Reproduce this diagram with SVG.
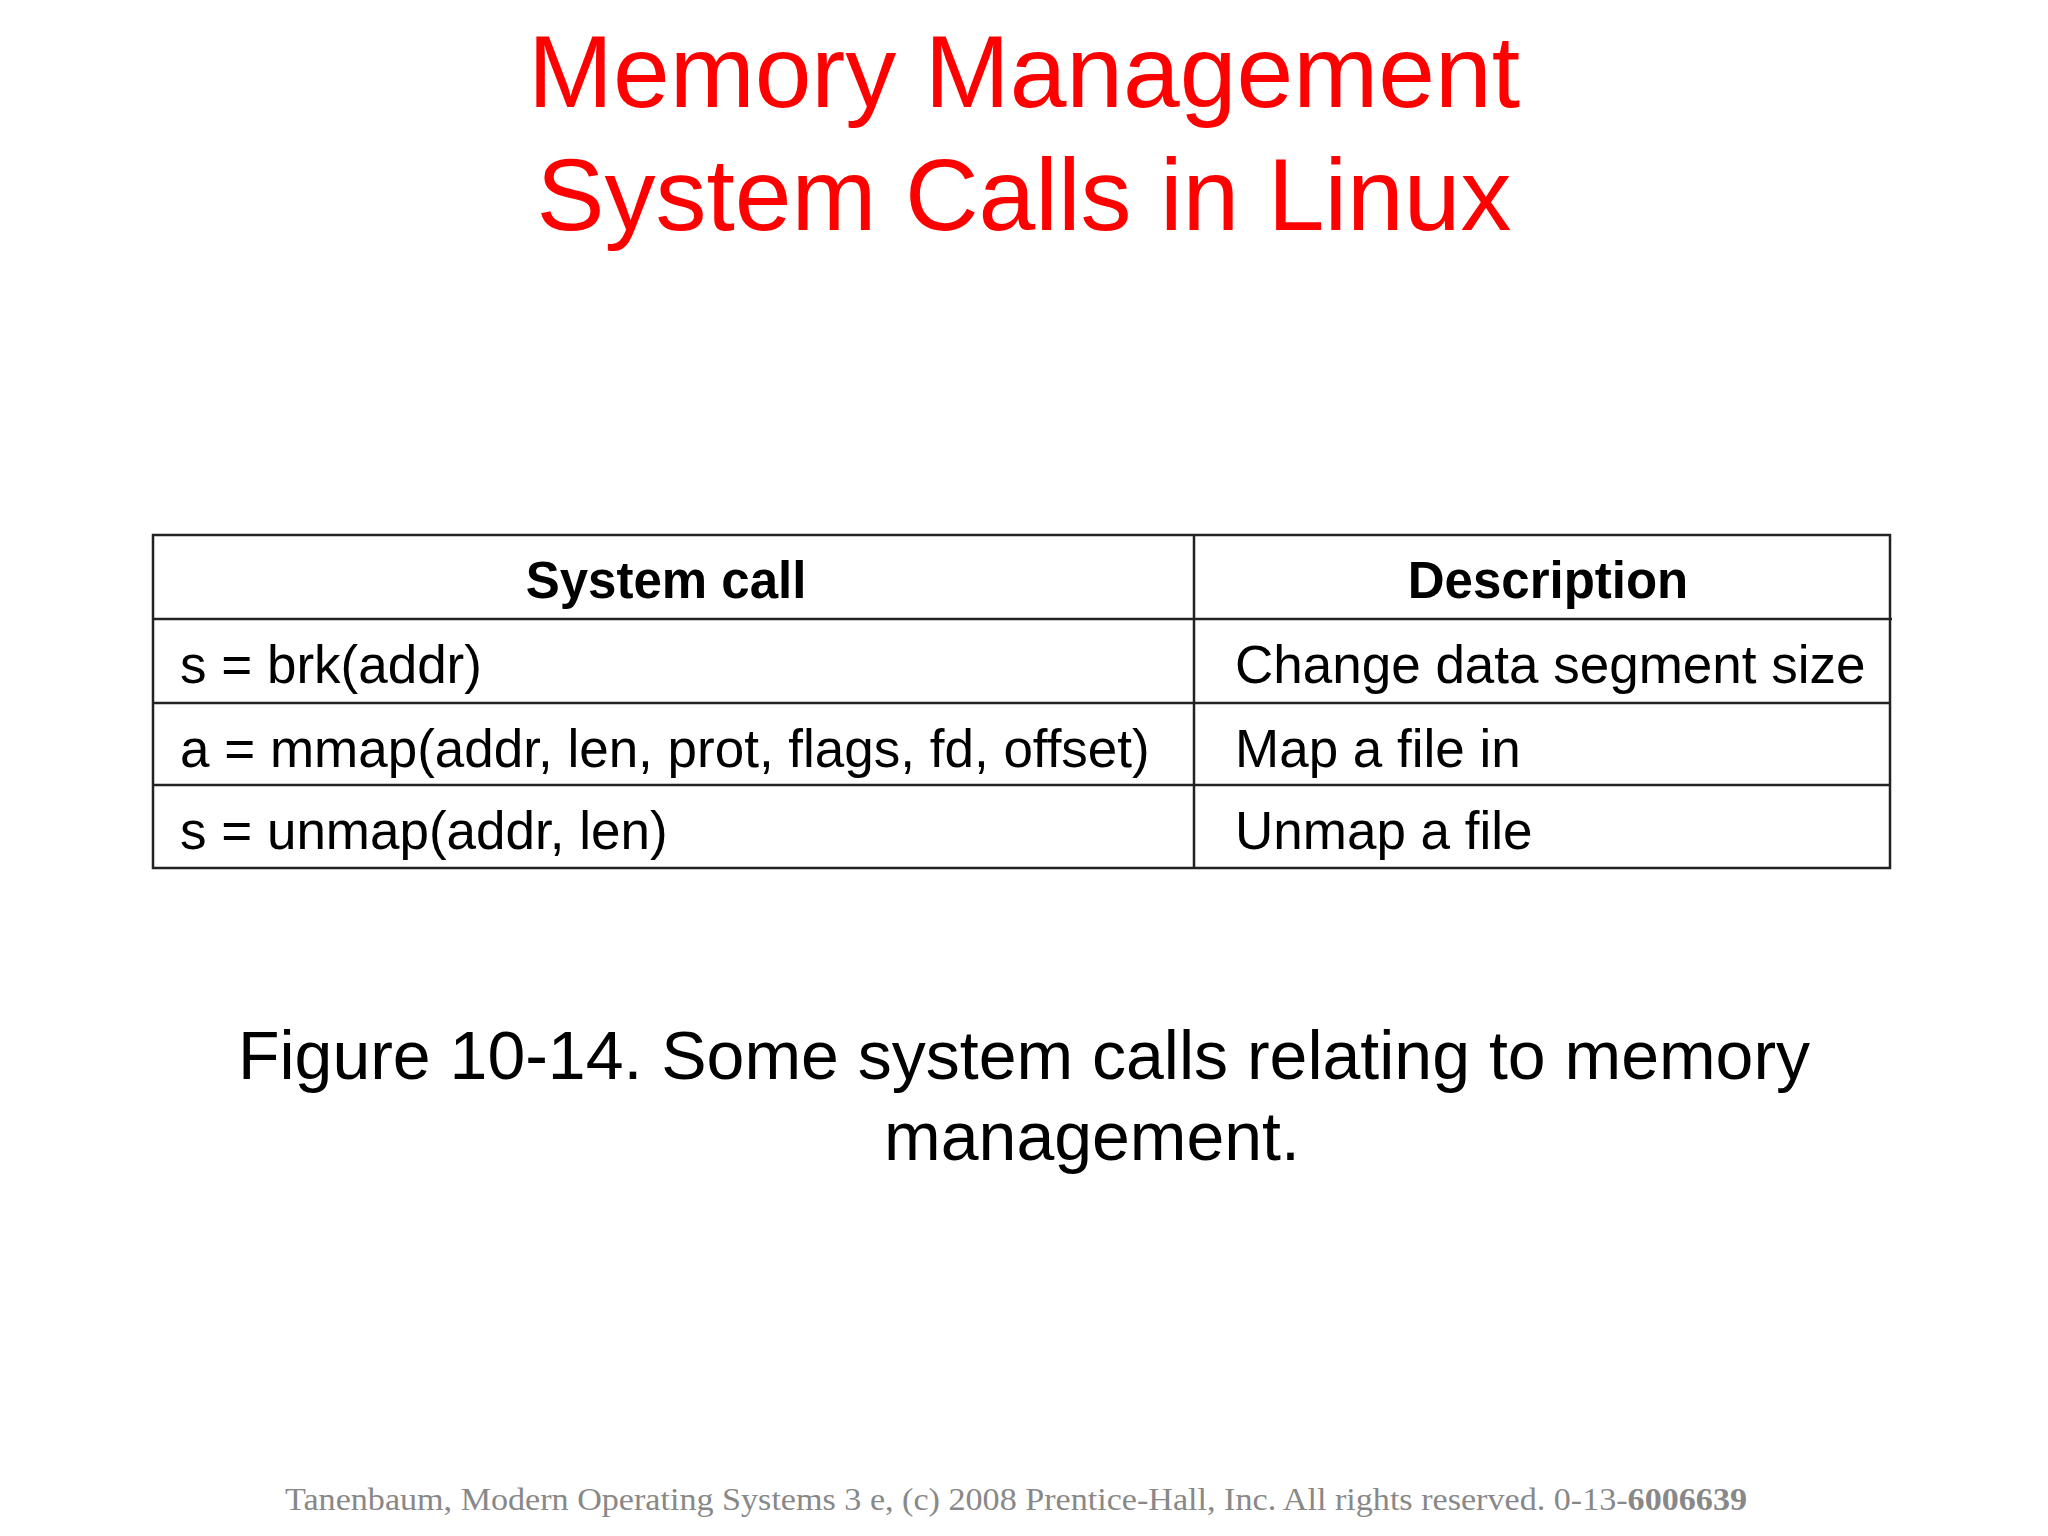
<svg xmlns="http://www.w3.org/2000/svg" width="2048" height="1536" viewBox="0 0 2048 1536">
<style>
.t{font-family:"Liberation Sans",Arial,sans-serif;fill:#f00;font-size:102px;text-anchor:middle}
.h{font-family:"Liberation Sans",Arial,sans-serif;font-weight:bold;font-size:51px;text-anchor:middle}
.c{font-family:"Liberation Sans",Arial,sans-serif;font-size:53px}
.cap{font-family:"Liberation Sans",Arial,sans-serif;font-size:68px;text-anchor:middle}
.ln{stroke:#222;stroke-width:2.5;fill:none}
</style>
<rect width="2048" height="1536" fill="#fff"/>
<g id="title">
<text class="t" x="1024" y="107">Memory Management</text>
<text class="t" x="1024" y="230">System Calls in Linux</text>
</g>
<g id="table">
<rect class="ln" x="153" y="535" width="1737" height="333"/>
<line class="ln" x1="1194" y1="535" x2="1194" y2="868"/>
<line class="ln" x1="153" y1="619" x2="1892" y2="619"/>
<line class="ln" x1="153" y1="703" x2="1890" y2="703"/>
<line class="ln" x1="153" y1="785" x2="1890" y2="785"/>
<text class="h" x="666" y="598">System call</text>
<text class="h" x="1548" y="598">Description</text>
<text class="c" x="180" y="683">s = brk(addr)</text>
<text class="c" x="180" y="767">a = mmap(addr, len, prot, flags, fd, offset)</text>
<text class="c" x="180" y="849">s = unmap(addr, len)</text>
<text class="c" x="1235" y="683">Change data segment size</text>
<text class="c" x="1235" y="767">Map a file in</text>
<text class="c" x="1235" y="849">Unmap a file</text>
</g>
<g id="caption">
<text class="cap" x="1024" y="1079">Figure 10-14. Some system calls relating to memory</text>
<text class="cap" x="1092" y="1160">management.</text>
</g>
<text x="285" y="1510" font-family="'Liberation Serif','Times New Roman',serif" font-size="31" fill="#888" textLength="1462" lengthAdjust="spacingAndGlyphs">Tanenbaum, Modern Operating Systems 3 e, (c) 2008 Prentice-Hall, Inc. All rights reserved. 0-13-<tspan font-weight="bold">6006639</tspan></text>
</svg>
